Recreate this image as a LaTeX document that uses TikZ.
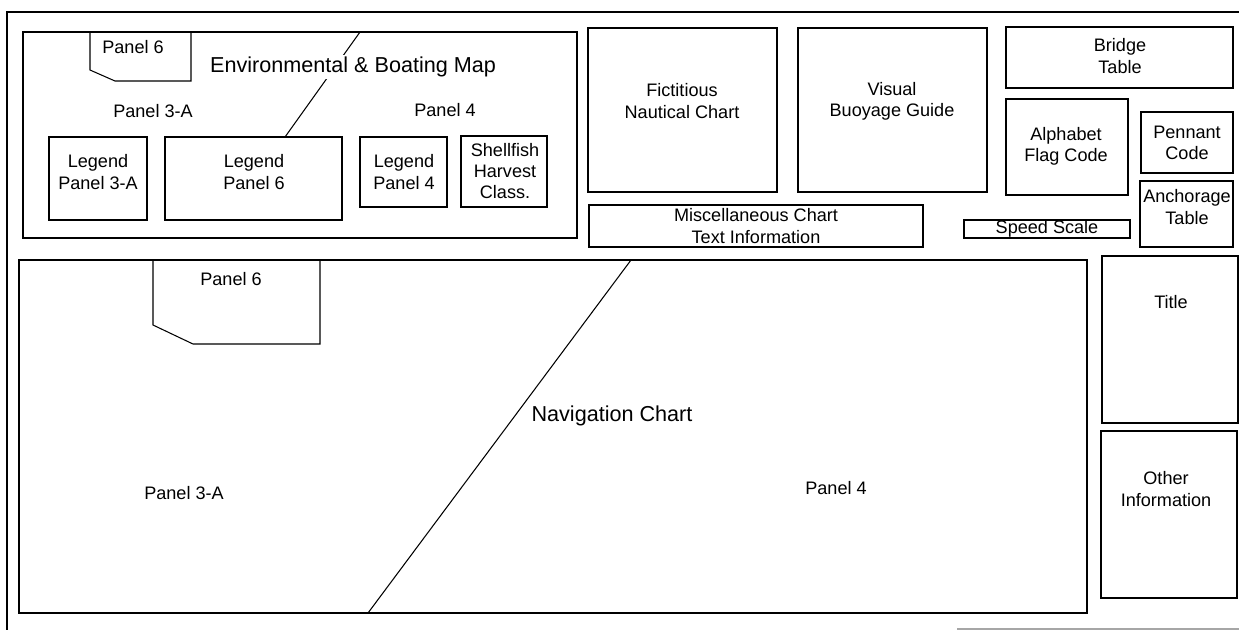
\documentclass[tikz,border=0pt]{standalone}
\usepackage{fontspec}
\setmainfont{Liberation Sans}
\begin{document}
\begin{tikzpicture}[x=0.02cm, y=-0.02cm,
  box/.style={draw=black, line width=0.6pt},
  frame/.style={draw=black, line width=1.6pt},
  lbl/.style={font=\fontsize{10.3}{12}\selectfont, align=center, inner sep=0pt},
  big/.style={font=\fontsize{12.3}{14}\selectfont, inner sep=1pt}]
\useasboundingbox (0,0) rectangle (1239,630);
\fill[white] (0,0) rectangle (1239,630);
% outer frame
\draw[frame] (1239,12) -- (7,12) -- (7,630);
\draw[gray!70, line width=0.6pt] (957,629) -- (1239,629);

% Environmental & Boating Map
\draw[box] (23,32) rectangle (577,238);
\draw[box] (90,32) -- (90,70) -- (115,81) -- (191,81) -- (191,32);
\node[lbl] (envp6) at (133,47) {Panel 6};
\coordinate (envlt) at (360,32);
\coordinate (envlb) at (285,137);
\draw[line width=0.6pt] (envlt) -- (envlb);
\node[big, fill=white, anchor=west] (envtitle) at (208,67) {Environmental \& Boating Map};
\node[lbl] (envp3a) at (153,111) {Panel 3-A};
\node[lbl] (envp4) at (445,110) {Panel 4};
\draw[box] (49,137) rectangle (147,220);
\node[lbl] (leg3a) at (98,172) {Legend\\Panel 3-A};
\draw[box] (165,137) rectangle (342,220);
\node[lbl] (leg6) at (254,172) {Legend\\Panel 6};
\draw[box] (360,137) rectangle (447,207);
\node[lbl] (leg4) at (404,172) {Legend\\Panel 4};
\draw[box] (461,136) rectangle (547,207);
\node[lbl] (shell) at (505,171) {Shellfish\\Harvest\\Class.};

% top right group
\draw[box] (588,28) rectangle (777,192);
\node[lbl] (fict) at (682,101) {Fictitious\\Nautical Chart};
\draw[box] (798,28) rectangle (987,192);
\node[lbl] (buoy) at (892,101) {Visual\\Buoyage Guide};
\draw[box] (1006,27) rectangle (1233,88);
\node[lbl] (bridge) at (1120,56) {Bridge\\Table};
\draw[box] (1006,99) rectangle (1128,195);
\node[lbl] (alpha) at (1066,146) {Alphabet\\Flag Code};
\draw[box] (1141,112) rectangle (1233,173);
\node[lbl] (penn) at (1187,143) {Pennant\\Code};
\draw[box] (1140,181) rectangle (1233,247);
\node[lbl] (anch) at (1187,207) {Anchorage\\Table};
\draw[box] (589,205) rectangle (923,247);
\node[lbl] (misc) at (756,226) {Miscellaneous Chart\\Text Information};
\draw[box] (964,220) rectangle (1130,238);
\node[lbl] (speed) at (1047,229) {Speed Scale};

% Navigation chart
\draw[box] (19,260) rectangle (1087,613);
\draw[box] (153,260) -- (153,325) -- (193,344) -- (320,344) -- (320,260);
\node[lbl] (navp6) at (231,279) {Panel 6};
\coordinate (navlt) at (631,260);
\coordinate (navlb) at (368,613);
\draw[line width=0.6pt] (navlt) -- (navlb);
\node[big] (navtitle) at (612,416) {Navigation Chart};
\node[lbl] (navp3a) at (184,493) {Panel 3-A};
\node[lbl] (navp4) at (836,488) {Panel 4};

% right column
\draw[box] (1102,256) rectangle (1238,423);
\node[lbl] (title) at (1171,302) {Title};
\draw[box] (1101,431) rectangle (1237,598);
\node[lbl] (other) at (1166,489) {Other\\Information};
\end{tikzpicture}
\end{document}
